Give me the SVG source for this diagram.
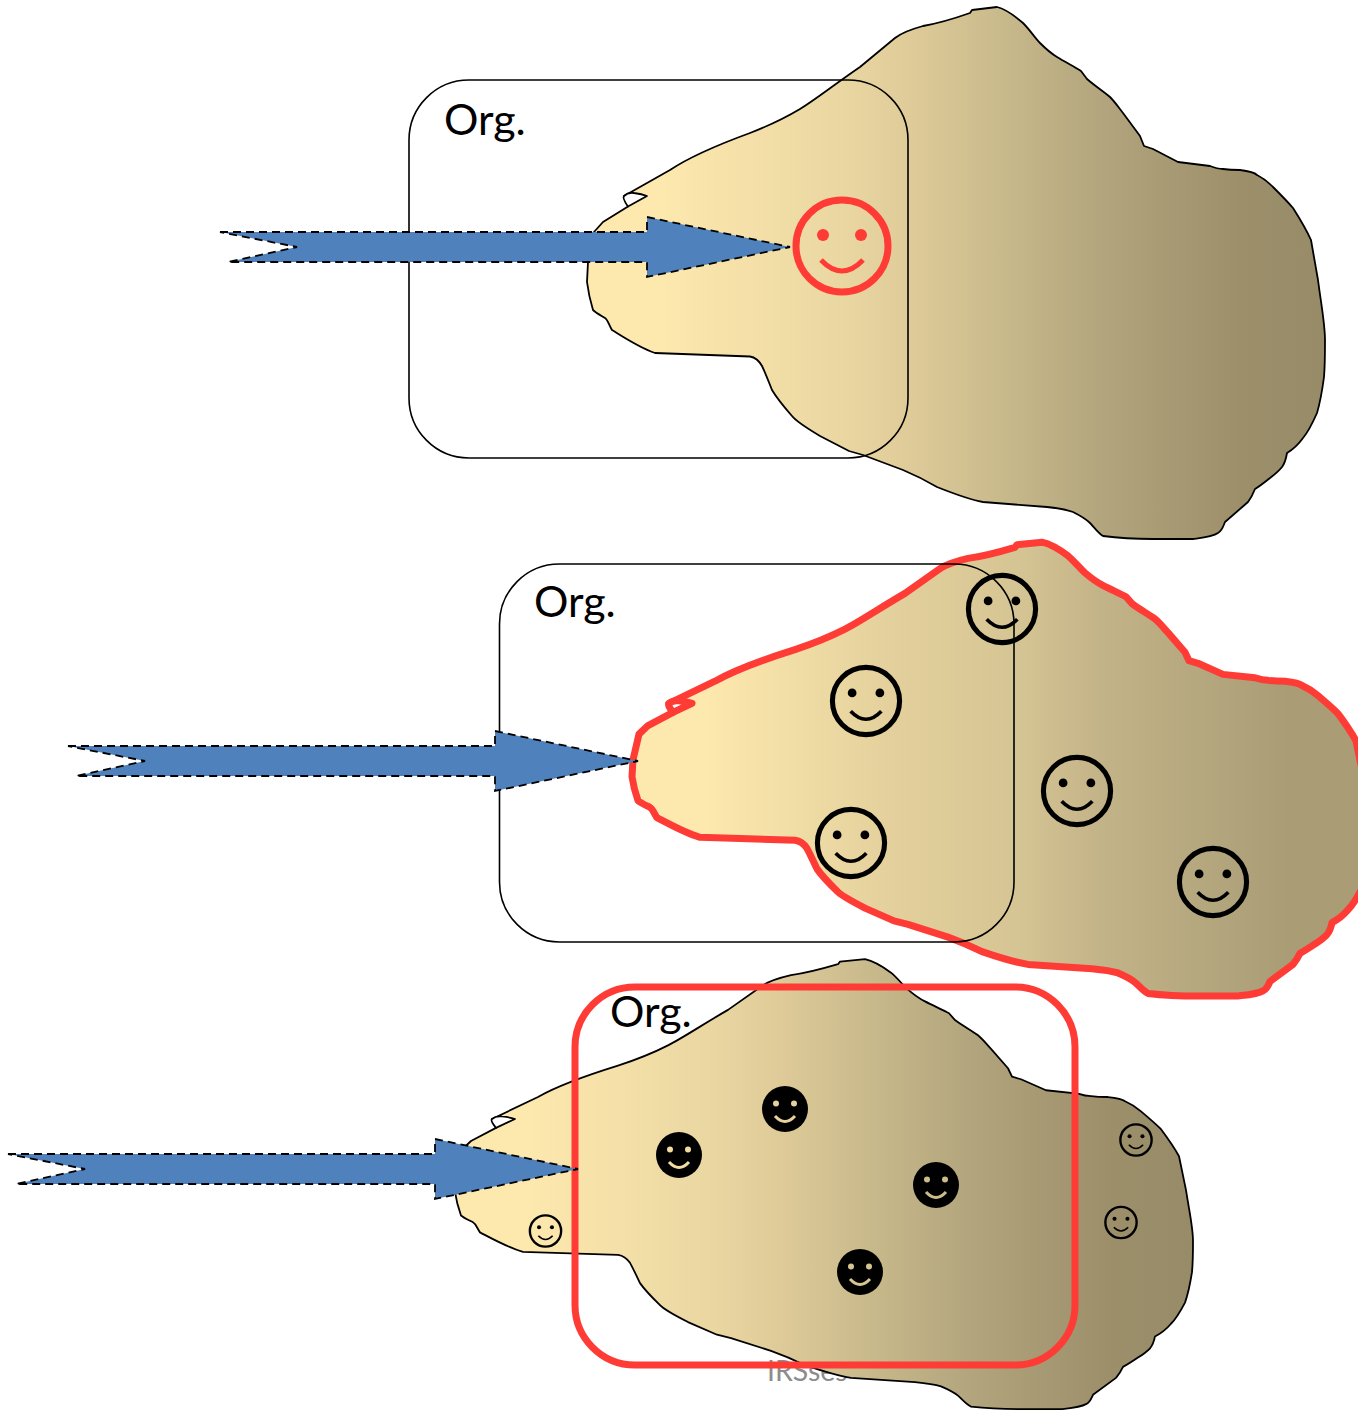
<svg xmlns="http://www.w3.org/2000/svg" width="1358" height="1411" viewBox="0 0 1358 1411">
<style>
.org{font-family:Lato,"Liberation Sans",sans-serif;font-size:43px;fill:#000}
.wm{font-family:Lato,"Liberation Sans",sans-serif;font-size:28.500px;fill:#8c8c8c}
.box{fill:none;stroke:#000;stroke-width:1.6}
.redbox{fill:none;stroke:#ff3b36;stroke-width:7}
.arrow{fill:#4f81bd;stroke:#000;stroke-width:1.8;stroke-dasharray:8 5}
.outline{stroke-linejoin:round;vector-effect:non-scaling-stroke}
.notch{fill:#fff;stroke-linejoin:round;vector-effect:non-scaling-stroke}
</style>
<defs>
<linearGradient id="g" gradientUnits="userSpaceOnUse" x1="587" y1="0" x2="1325" y2="0">
<stop offset="0.1" stop-color="#fde9ae"/>
<stop offset="0.35" stop-color="#ead6a1"/>
<stop offset="0.424" stop-color="#e1cd9a"/>
<stop offset="0.56" stop-color="#c9ba8c"/>
<stop offset="0.695" stop-color="#b3a57d"/>
<stop offset="0.885" stop-color="#9c8f6a"/>
<stop offset="1" stop-color="#988b68"/>
</linearGradient>
<linearGradient id="g2" gradientUnits="userSpaceOnUse" x1="587" y1="0" x2="1325" y2="0">
<stop offset="0.1" stop-color="#fde9ae"/>
<stop offset="0.35" stop-color="#e3d09c"/>
<stop offset="0.52" stop-color="#d6c594"/>
<stop offset="0.634" stop-color="#c3b388"/>
<stop offset="0.77" stop-color="#b5a77e"/>
<stop offset="0.888" stop-color="#aa9c75"/>
</linearGradient>
<path id="blob" class="outline" d="M594,232 L603,222 L628,206.500 L624,196 L670,170 C688,158 720,144 750,133 C768,126 785,118 800,109 C815,100 835,84 860,67 L895,38 C900,34 912,29 923,26 C935,24 950,20 970,13 L972,10 L997,7 C1005,9 1015,16 1023,23 C1030,30 1035,38 1040,43 C1047,50 1052,54 1057,57 C1065,62 1075,67 1081,71 L1087,79 C1095,86 1103,91 1110,97 C1115,102 1119,108 1123,113 L1140,136 L1144,146 L1153,149 L1178,162 L1210,166 C1215,168 1218,169 1223,169 C1230,170 1235,170 1240,170 C1248,171 1255,173 1257,175 C1263,178 1268,182 1273,187 C1280,194 1287,201 1293,208 C1300,219 1306,229 1311,240 L1318,280 C1322,310 1325,325 1325,340 C1325,355 1325,365 1324,377 C1322,392 1320,403 1317,413 C1313,422 1309,431 1303,438 C1298,445 1292,450 1287,453 C1286,459 1285,463 1282,467 C1278,472 1274,475 1270,478 C1265,482 1260,486 1255,489 C1253,494 1251,498 1248,502 L1225,522 C1223,527 1222,531 1218,533 C1212,537 1200,538 1193,539 L1153,539 C1135,539 1118,538 1103,536 C1098,533 1094,527 1090,523 C1085,518 1079,515 1073,512 C1065,509 1056,508 1047,507 L983,502 C967,499 952,493 937,487 C925,480 915,475 903,470 L863,455 L849,451 L820,436 C805,427 795,420 792,416 C785,408 778,400 772,390 C768,380 764,370 762,366 C758,359 753,357 750,356.500 L655,353 C640,348 625,338 612,330 C609,325 608,320 605,318 C600,315 596,313 593,310 C590,300 588,290 587,282 L588,262 Z"/>
<path id="loop" class="notch" d="M628,206.500 Q622,198 624,196 Q628,192 634,193 Q642,194 647,196 Z"/>
<g id="face">
<circle r="46" fill="none" stroke="currentColor" stroke-width="7"/>
<circle cx="-19" cy="-11" r="6" fill="currentColor"/>
<circle cx="19" cy="-11" r="6" fill="currentColor"/>
<path d="M-21,14 Q0,36 21,14" fill="none" stroke="currentColor" stroke-width="5"/>
</g>
<g id="solid">
<circle r="23" fill="#000"/>
<circle cx="-9" cy="-5.500" r="3" fill="currentColor"/>
<circle cx="9" cy="-5.500" r="3" fill="currentColor"/>
<path d="M-10,7 Q0,18 10,7" fill="none" stroke="currentColor" stroke-width="3"/>
</g>
<path id="arr" class="arrow" d="M220,232 H647 V217 L790,247 L647,277 V262 H228 L297,247 Z"/>
</defs>

<text class="wm" x="767" y="1381">IRSses</text>

<g id="blob-top" stroke="#000" stroke-width="1.800">
<use href="#blob" fill="url(#g)"/><use href="#loop"/>
</g>
<g id="blob-middle" stroke="#ff3b36" stroke-width="7" transform="translate(45,536.200) scale(1,0.853)">
<use href="#blob" fill="url(#g2)"/><use href="#loop"/>
</g>
<g id="blob-bottom" stroke="#000" stroke-width="1.800" transform="translate(-132,953.200) scale(1,0.846)">
<use href="#blob" fill="url(#g)"/><use href="#loop"/>
</g>

<g id="org-top"><rect class="box" x="409" y="80" width="499" height="378" rx="60"/><text class="org" x="444" y="135">Org.</text></g>
<g id="org-middle"><rect class="box" x="499.500" y="564" width="514.500" height="378" rx="60"/><text class="org" x="534" y="617">Org.</text></g>
<g id="org-bottom"><rect class="redbox" x="575" y="987" width="500" height="378" rx="60"/><text class="org" x="610" y="1027">Org.</text></g>

<g id="person-red" color="#ff3b36" transform="translate(842,246)"><use href="#face"/></g>
<g id="p2a" color="#000" transform="translate(1002,609) scale(.73)"><use href="#face"/></g>
<g id="p2b" color="#000" transform="translate(866,701) scale(.73)"><use href="#face"/></g>
<g id="p2c" color="#000" transform="translate(1077,791) scale(.73)"><use href="#face"/></g>
<g id="p2d" color="#000" transform="translate(851,843) scale(.73)"><use href="#face"/></g>
<g id="p2e" color="#000" transform="translate(1213,882) scale(.73)"><use href="#face"/></g>
<g id="p3a" color="#f3dca2" transform="translate(679,1155)"><use href="#solid"/></g>
<g id="p3b" color="#e6d29c" transform="translate(785,1109)"><use href="#solid"/></g>
<g id="p3c" color="#cdbb8a" transform="translate(936,1185)"><use href="#solid"/></g>
<g id="p3d" color="#d6c492" transform="translate(860,1272)"><use href="#solid"/></g>
<g id="p3e" color="#000" transform="translate(545.500,1231) scale(.34)"><use href="#face"/></g>
<g id="p3f" color="#000" transform="translate(1136,1140) scale(.34)"><use href="#face"/></g>
<g id="p3g" color="#000" transform="translate(1121,1222.500) scale(.34)"><use href="#face"/></g>

<g id="connectors">
<use href="#arr"/>
<use href="#arr" transform="translate(-152,514)"/>
<use href="#arr" transform="translate(-212,922)"/>
</g>
</svg>
